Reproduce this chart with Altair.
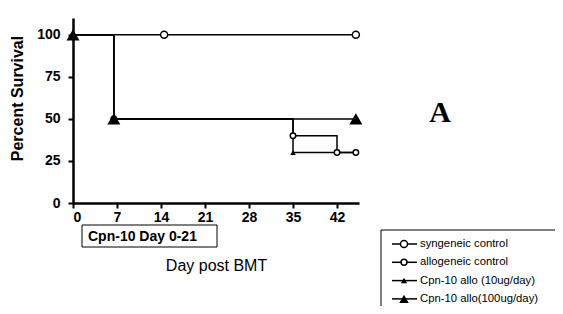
import altair as alt
import pandas as pd

# ---- data ----
series_names = ["syngeneic control", "allogeneic control",
                "Cpn-10 allo (10ug/day)", "Cpn-10 allo(100ug/day)"]

syn_day = [0, 45]
syn_surv = [100, 100]
allo_day = [0, 6.5, 35, 42, 45]
allo_surv = [100, 50, 40, 30, 30]
c10_day = [0, 6.5, 35, 45]
c10_surv = [100, 50, 30, 30]
c100_day = [0, 6.5, 45]
c100_surv = [100, 50, 50]

syn_mark_day = [14.5, 45]
syn_mark_surv = [100, 100]
allo_mark_day = [6.5, 35, 42, 45]
allo_mark_surv = [50, 40, 30, 30]
c10_mark_day = [35]
c10_mark_surv = [30]
c100_mark_day = [0, 6.5, 45]
c100_mark_surv = [100, 50, 50]

x_ticks = [0, 7, 14, 21, 28, 35, 42]
y_ticks = [0, 25, 50, 75, 100]

box_label = "Cpn-10 Day 0-21"
panel_label = "A"

# ---- build tables ----
def frame(days, surv, name):
    return pd.DataFrame({"day": days, "surv": surv, "series": name})

lines_df = pd.concat([
    frame(syn_day, syn_surv, series_names[0]),
    frame(allo_day, allo_surv, series_names[1]),
    frame(c10_day, c10_surv, series_names[2]),
    frame(c100_day, c100_surv, series_names[3]),
])

FONT = "Liberation Sans"

x_enc = alt.X("day:Q", scale=alt.Scale(domain=[0, 45.5], nice=False),
              axis=alt.Axis(values=x_ticks, title="Day post BMT", grid=False,
                            labelFont=FONT, labelFontWeight="bold", labelFontSize=14,
                            labelColor="black", tickSize=5, tickWidth=2, tickColor="black",
                            domainWidth=2.5, domainColor="black", labelPadding=2,
                            titleFont=FONT, titleFontWeight="normal", titleFontSize=16,
                            titleColor="black", titlePadding=33))
y_enc = alt.Y("surv:Q", scale=alt.Scale(domain=[0, 110], nice=False),
              axis=alt.Axis(values=y_ticks, title="Percent Survival", grid=False,
                            labelFont=FONT, labelFontWeight="bold", labelFontSize=14,
                            labelColor="black", tickSize=5, tickWidth=2, tickColor="black",
                            domainWidth=2.5, domainColor="black", labelPadding=8,
                            titleFont=FONT, titleFontWeight="bold", titleFontSize=16,
                            titleColor="black", titleX=-56, titleY=80,
                            titleAngle=270, titleAlign="center", titleBaseline="middle"))

lines = alt.Chart(lines_df).mark_line(interpolate="step-after", color="black",
                                      strokeWidth=1.5).encode(
    x=x_enc, y=y_enc, detail="series:N")

def markers(days, surv, shape, size, filled):
    df = pd.DataFrame({"day": days, "surv": surv})
    return alt.Chart(df).mark_point(shape=shape, size=size, filled=filled,
                                    color="black", fill="black" if filled else "white",
                                    fillOpacity=1, strokeWidth=1.5, opacity=1).encode(
        x="day:Q", y="surv:Q")

m_syn = markers(syn_mark_day, syn_mark_surv, "circle", 50, False)
m_allo = markers(allo_mark_day, allo_mark_surv, "circle", 30, False)
m_c10 = markers(c10_mark_day, c10_mark_surv, "triangle-up", 30, True)
m_c100 = markers(c100_mark_day, c100_mark_surv, "triangle-up", 170, True)

one = pd.DataFrame({"k": [0]})

# box under x axis
box = alt.Chart(one).mark_rect(fill="white", stroke="black", strokeWidth=1).encode(
    x=alt.value(9), x2=alt.value(144), y=alt.value(207), y2=alt.value(229))
box_text = alt.Chart(one).mark_text(text=box_label, font=FONT, fontWeight="bold",
                                    fontSize=14, align="left", baseline="middle",
                                    color="black").encode(
    x=alt.value(15), y=alt.value(219))

a_text = alt.Chart(one).mark_text(text=panel_label, font="Liberation Serif",
                                  fontWeight="bold", fontSize=30, align="center",
                                  baseline="middle", color="black").encode(
    x=alt.value(367), y=alt.value(95))

# manual legend
leg_box = alt.Chart(one).mark_rect(fill="white", stroke="black", strokeWidth=1).encode(
    x=alt.value(308), x2=alt.value(484), y=alt.value(212), y2=alt.value(320))
leg_layers = [leg_box]
leg_symbols = [("circle", 50, False), ("circle", 35, False),
               ("triangle-up", 40, True), ("triangle-up", 90, True)]
for i, (name, (shape, size, filled)) in enumerate(zip(series_names, leg_symbols)):
    yy = 226 + i * 18.3
    leg_layers.append(alt.Chart(one).mark_rule(color="black", strokeWidth=1.5).encode(
        x=alt.value(319), x2=alt.value(344), y=alt.value(yy)))
    leg_layers.append(alt.Chart(one).mark_point(shape=shape, size=size, filled=filled,
                                                color="black",
                                                fill="black" if filled else "white",
                                                fillOpacity=1, opacity=1,
                                                strokeWidth=1.5).encode(
        x=alt.value(331), y=alt.value(yy)))
    leg_layers.append(alt.Chart(one).mark_text(text=name, font=FONT, fontSize=11.3,
                                               align="left", baseline="middle",
                                               color="black").encode(
        x=alt.value(347), y=alt.value(yy)))

chart = alt.layer(lines, m_syn, m_allo, m_c10, m_c100, box, box_text, a_text,
                  *leg_layers).properties(
    width=286, height=185,
    autosize=alt.AutoSizeParams(type="none"),
    padding={"left": 65, "top": 10, "right": 196, "bottom": 103},
    background="white",
).configure_view(stroke=None)

chart.save("out.html", embed_options={"renderer": "svg", "actions": False})
